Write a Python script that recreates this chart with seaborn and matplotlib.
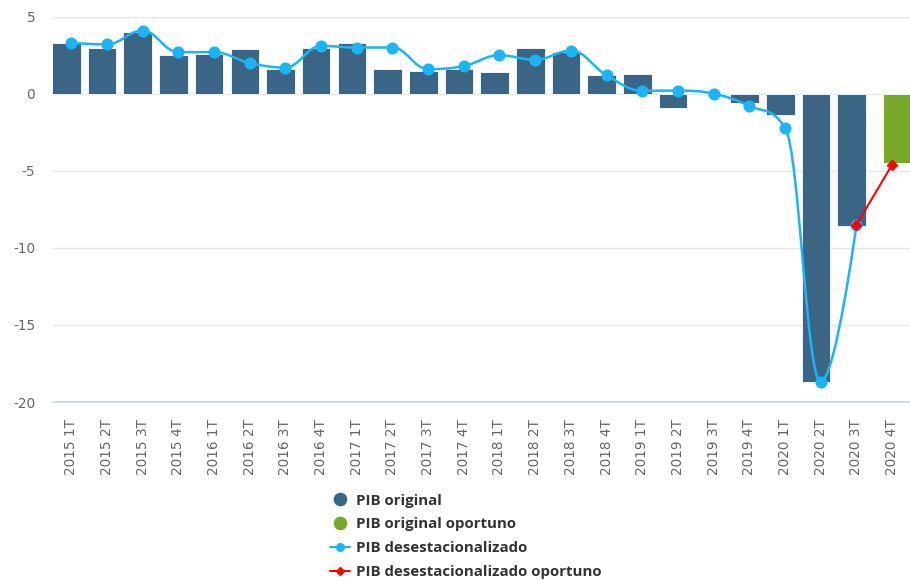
import numpy as np
import pandas as pd
import matplotlib
matplotlib.use("Agg")
import matplotlib.pyplot as plt
from matplotlib.path import Path
from matplotlib.patches import PathPatch
from matplotlib.lines import Line2D
import seaborn as sns

# Quarter labels
trimestres = [f"{a} {t}T" for a in range(2015, 2021) for t in range(1, 5)]

# PIB original (annual % change), last quarter comes from the timely estimate
pib_original = [3.3, 3.0, 4.0, 2.5, 2.6, 2.9, 1.6, 3.0, 3.3, 1.6, 1.5, 1.6,
                1.4, 3.0, 2.7, 1.2, 1.3, -0.9, -0.1, -0.6, -1.4, -18.7, -8.6]
pib_original_oportuno = [-4.5]  # 2020 4T

# PIB desestacionalizado
pib_desest = [3.3, 3.2, 4.1, 2.7, 2.7, 2.0, 1.7, 3.1, 3.0, 3.0, 1.6, 1.8,
              2.5, 2.2, 2.8, 1.2, 0.2, 0.2, 0.0, -0.8, -2.2, -18.7, -8.5]
pib_desest_oportuno = [-8.5, -4.6]  # 2020 3T -> 2020 4T

c_orig = "#3a6584"
c_oport = "#7aa82a"
c_desest = "#1db4f5"
c_rojo = "#ff0000"

sns.set_style("white")
plt.rcParams["font.family"] = ["DejaVu Sans"]
plt.rcParams["axes.unicode_minus"] = False

fig = plt.figure(figsize=(9.10, 5.81), dpi=100)
W, H = 910, 581
x0, x1, ytop, ybot = 53.3, 910, 16.7, 402
ax = fig.add_axes([x0 / W, 1 - ybot / H, (x1 - x0) / W, (ybot - ytop) / H])

# bars
n_orig = len(pib_original)
sns.barplot(x=trimestres[:n_orig], y=pib_original, order=trimestres,
            color=c_orig, width=0.8, errorbar=None, saturation=1,
            edgecolor="white", linewidth=0.6, ax=ax)
n_p = len(ax.patches)
sns.barplot(x=trimestres[-1:], y=pib_original_oportuno, order=trimestres,
            color=c_oport, width=0.8, errorbar=None, saturation=1,
            edgecolor="white", linewidth=0.6, ax=ax)
for i, p in enumerate(ax.patches):
    p.set_x(p.get_x() + (-0.135 if i < n_p else 0.135))


# Highcharts-like spline through the seasonally adjusted series
def spline_path(xs, ys, smoothing=1.5):
    n = len(xs)
    left, right = [], []
    for i in range(n):
        px, py = xs[i], ys[i]
        if 0 < i < n - 1:
            lx, ly, nx, ny = xs[i - 1], ys[i - 1], xs[i + 1], ys[i + 1]
            d = smoothing + 1
            lcx, lcy = (smoothing * px + lx) / d, (smoothing * py + ly) / d
            rcx, rcy = (smoothing * px + nx) / d, (smoothing * py + ny) / d
            corr = (rcy - lcy) * (rcx - px) / (rcx - lcx) + py - rcy
            lcy += corr
            rcy += corr
            if lcy > ly and lcy > py:
                lcy = max(ly, py); rcy = 2 * py - lcy
            elif lcy < ly and lcy < py:
                lcy = min(ly, py); rcy = 2 * py - lcy
            if rcy > ny and rcy > py:
                rcy = max(ny, py); lcy = 2 * py - rcy
            elif rcy < ny and rcy < py:
                rcy = min(ny, py); lcy = 2 * py - rcy
            left.append((lcx, lcy)); right.append((rcx, rcy))
        else:
            left.append((px, py)); right.append((px, py))
    verts = [(xs[0], ys[0])]
    codes = [Path.MOVETO]
    for i in range(1, n):
        verts += [right[i - 1], left[i], (xs[i], ys[i])]
        codes += [Path.CURVE4] * 3
    return Path(verts, codes)


xd = np.arange(len(pib_desest))
ax.add_patch(PathPatch(spline_path(xd, pib_desest), fill=False,
                       edgecolor=c_desest, lw=1.8, zorder=4))
ax.plot(xd, pib_desest, "o", color=c_desest, ms=7.7, mec=c_desest, zorder=5)

xr = np.arange(len(trimestres) - len(pib_desest_oportuno), len(trimestres))
ax.plot(xr, pib_desest_oportuno, color=c_rojo, lw=1.5, marker="D", ms=5,
        zorder=6)

# axes
ax.set_xlim(-0.5, (x1 - x0) / 36.13 - 0.5)
ax.set_ylim(-20, 5)
ax.set_yticks([5, 0, -5, -10, -15, -20])
ax.yaxis.grid(True, color="#e6e6e6", lw=1)
ax.set_axisbelow(True)
for s in ["top", "right", "left"]:
    ax.spines[s].set_visible(False)
ax.spines["bottom"].set_color("#ccd6eb")
ax.spines["bottom"].set_linewidth(1.2)
ax.set_xticks(range(len(trimestres)))
ax.set_xticklabels(trimestres, rotation=90, va="top", ha="center")
ax.set_xticks(np.arange(-0.5, len(trimestres), 1), minor=True)
ax.tick_params(axis="x", which="major", length=0, pad=12.5, labelsize=9.8,
               labelcolor="#666666")
ax.tick_params(axis="x", which="minor", length=8, width=1.2, color="#ccd6eb")
ax.tick_params(axis="y", length=0, pad=13, labelsize=9.8, labelcolor="#666666")
ax.set_xlabel("")
ax.set_ylabel("")

handles = [
    Line2D([], [], ls="none", marker="o", ms=8.8, color=c_orig),
    Line2D([], [], ls="none", marker="o", ms=8.8, color=c_oport),
    Line2D([], [], color=c_desest, lw=1.5, marker="o", ms=5.5),
    Line2D([], [], color=c_rojo, lw=1.5, marker="D", ms=4.5),
]
names = ["PIB original", "PIB original oportuno", "PIB desestacionalizado",
         "PIB desestacionalizado oportuno"]
leg = fig.legend(handles, names, loc="upper left",
                 bbox_to_anchor=(330 / W, 1 - 493.5 / H), frameon=False,
                 borderpad=0, borderaxespad=0, handlelength=1.3,
                 handletextpad=0.4, labelspacing=0.65,
                 prop={"family": "Open Sans", "weight": "bold", "size": 10.8})
for t in leg.get_texts():
    t.set_color("#333333")

fig.savefig("out.png", dpi=100)
